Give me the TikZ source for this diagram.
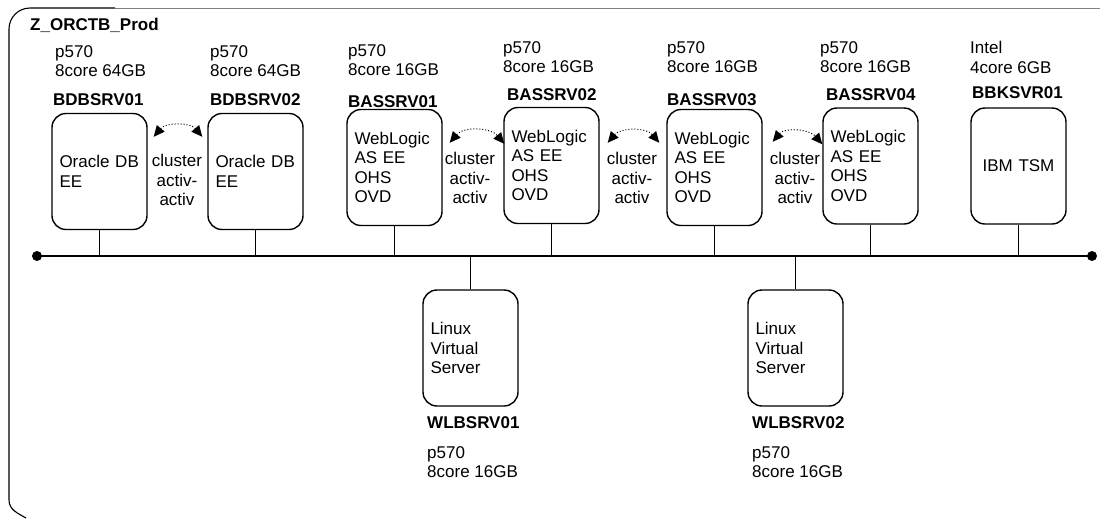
\documentclass[tikz,border=0pt]{standalone}
\usepackage{fontspec}
\setmainfont{Liberation Sans}
\usetikzlibrary{arrows.meta}
\begin{document}
\begin{tikzpicture}[x=1pt,y=1pt,
  every node/.style={inner sep=0pt, font=\fontsize{17}{19.5}\selectfont},
  srv/.style={draw, line width=1.4pt, rounded corners=14pt, minimum height=116pt,
              inner xsep=7.5pt, text width=80pt, align=left},
  spec/.style={anchor=north west, align=left},
  hname/.style={anchor=west, font=\bfseries\fontsize{17}{19.5}\selectfont},
  cl/.style={anchor=north, align=center},
  clarrow/.style={dotted, line width=1pt,
     {Triangle[length=11pt,width=10pt]}-{Triangle[length=11pt,width=10pt]}},
  stub/.style={line width=1.3pt},
  bus/.style={line width=1.7pt}]
\useasboundingbox (0,0) rectangle (1114,-520);

% frame (visible parts)
\draw[line width=1.1pt] (115,-8) -- (30,-8) to[out=180,in=90] (9,-29) -- (9,-500) to[out=-90,in=150] (26,-518);
\draw[black!50, line width=0.8pt] (115,-8) -- (1100,-8);

\node[hname] (title) at (30,-25) {Z\_ORCTB\_Prod};

% specs
\node[spec] (s1) at (55,-45) {p570\\8core 64GB};
\node[spec] (s2) at (210,-45) {p570\\8core 64GB};
\node[spec] (s3) at (348,-44) {p570\\8core 16GB};
\node[spec] (s4) at (503,-41) {p570\\8core 16GB};
\node[spec] (s5) at (667,-41) {p570\\8core 16GB};
\node[spec] (s6) at (820,-41) {p570\\8core 16GB};
\node[spec] (s7) at (970,-41) {Intel\\4core 6GB};

% host names
\node[hname] (n1) at (53,-100) {BDBSRV01};
\node[hname] (n2) at (210,-100) {BDBSRV02};
\node[hname] (n3) at (348,-102) {BASSRV01};
\node[hname] (n4) at (507,-95) {BASSRV02};
\node[hname] (n5) at (667,-100) {BASSRV03};
\node[hname] (n6) at (826,-95) {BASSRV04};
\node[hname] (n7) at (972,-93) {BBKSVR01};

% servers
\node[srv] (b1) at (99.5,-171.5) {Oracle DB\\EE};
\node[srv] (b2) at (255.5,-171.5) {Oracle DB\\EE};
\node[srv] (b3) at (394.5,-167.5) {WebLogic\\AS EE\\OHS\\OVD};
\node[srv] (b4) at (551.5,-165.5) {WebLogic\\AS EE\\OHS\\OVD};
\node[srv] (b5) at (714.5,-167.5) {WebLogic\\AS EE\\OHS\\OVD};
\node[srv] (b6) at (870.5,-166) {WebLogic\\AS EE\\OHS\\OVD};
\node[srv, align=center] (b7) at (1018.5,-166) {IBM TSM};

\node[srv] (w1) at (470.5,-348) {Linux\\Virtual\\Server};
\node[srv] (w2) at (795.5,-348) {Linux\\Virtual\\Server};

% cluster labels
\node[cl] (c12) at (177,-154) {cluster\\activ-\\activ};
\node[cl] (c34) at (470,-152) {cluster\\activ-\\activ};
\node[cl] (c45) at (632,-152) {cluster\\activ-\\activ};
\node[cl] (c56) at (795,-152) {cluster\\activ-\\activ};

% cluster arrows
\draw[clarrow] ([shift={(6,-24)}]b1.north east) to[out=50,in=130] ([shift={(-5,-24)}]b2.north west);
\draw[clarrow] ([shift={(7,-34)}]b3.north east) to[out=50,in=130] ([shift={(1,-37)}]b4.north west);
\draw[clarrow] ([shift={(8,-36)}]b4.north east) to[out=50,in=130] ([shift={(-7,-34)}]b5.north west);
\draw[clarrow] ([shift={(10,-33)}]b5.north east) to[out=50,in=130] ([shift={(0,-37)}]b6.north west);

% bus
\coordinate (busL) at (37,-256);
\coordinate (busR) at (1092,-256);
\draw[bus] (busL) -- (busR);
\fill (busL) circle (5);
\fill (busR) circle (5);
\foreach \n in {b1,b2,b3,b4,b5,b6,b7} \draw[stub] (\n.south) -- (\n.south |- busL);
\foreach \n in {w1,w2} \draw[stub] (\n.north) -- (\n.north |- busL);

% bottom names and specs
\node[hname] (n8) at (427,-423) {WLBSRV01};
\node[hname] (n9) at (752,-423) {WLBSRV02};
\node[spec] (s8) at (427,-446) {p570\\8core 16GB};
\node[spec] (s9) at (752,-446) {p570\\8core 16GB};
\end{tikzpicture}
\end{document}
